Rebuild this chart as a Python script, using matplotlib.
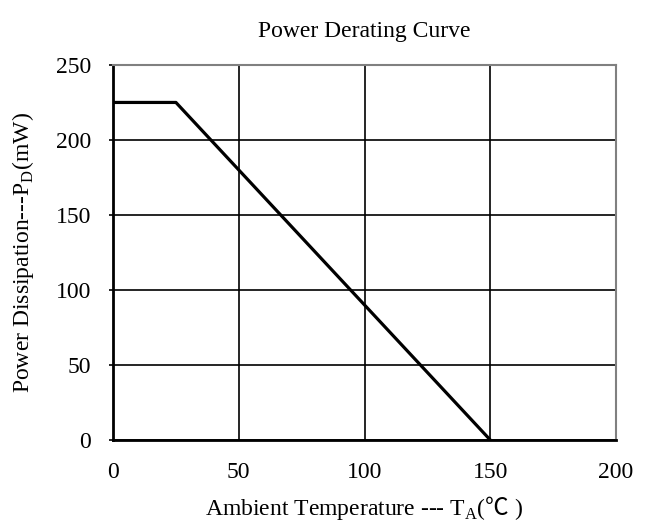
import matplotlib.pyplot as plt

# ---- DATA ----
temp = [0, 25, 150]
power = [225, 225, 0]
x_ticks = [0, 50, 100, 150, 200]
y_ticks = [0, 50, 100, 150, 200, 250]

plt.rcParams["font.family"] = ["Liberation Serif", "DejaVu Serif"]
plt.rcParams["mathtext.fontset"] = "custom"
plt.rcParams["mathtext.rm"] = "Liberation Serif"
plt.rcParams["mathtext.sf"] = "Noto Sans CJK JP"

FS = 17

# ---- PLOT ----
fig = plt.figure(figsize=(6.46, 5.28), dpi=100)
ax = fig.add_axes([0.175, 0.1667, 0.7786, 0.7103])

ax.plot(temp, power, color="black", linewidth=2.3, solid_capstyle="butt", zorder=3)

ax.set_xlim(0, 200)
ax.set_ylim(0, 250)
ax.set_xticks(x_ticks)
ax.set_yticks(y_ticks)
ax.grid(True, color="black", linewidth=1.2)
ax.set_axisbelow(True)

for side in ["left", "bottom"]:
    ax.spines[side].set_linewidth(2.0)
    ax.spines[side].set_color("black")
for side in ["top", "right"]:
    ax.spines[side].set_linewidth(1.5)
    ax.spines[side].set_color("#808080")

ax.tick_params(axis="both", labelsize=FS, direction="out", length=3, width=1.2)
ax.tick_params(axis="x", length=0, pad=16)
ax.tick_params(axis="y", pad=13)

ax.set_xlabel("Ambient Temperature --- T$_{\\mathrm{A}}$($\\mathsf{\u2103}$ )", fontsize=FS, labelpad=8)
ax.set_ylabel("Power Dissipation---P$_{\\mathrm{D}}$(mW)", fontsize=FS, labelpad=14)
ax.set_title("Power Derating Curve", fontsize=FS, pad=20)

plt.savefig("out.png", dpi=100)
